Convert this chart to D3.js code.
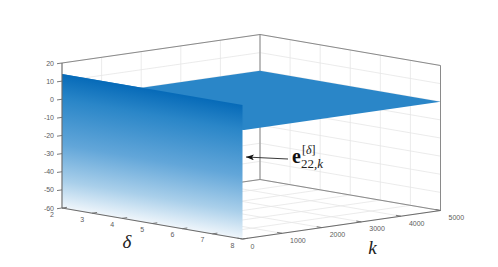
<!DOCTYPE html>
<html><head><meta charset="utf-8">
<script src="https://cdn.jsdelivr.net/npm/d3@7/dist/d3.min.js"></script>
<style>html,body{margin:0;padding:0;background:#fff}svg{display:block}
.t{font:7px "Liberation Sans",Arial,sans-serif;fill:#5c5c5c}</style></head><body>
<svg id="c" width="498" height="267"></svg>
<script>
const zTicks=[20,10,0,-10,-20,-30,-40,-50,-60];
const deltaTicks=[2,3,4,5,6,7,8];
const kTicks=[0,1000,2000,3000,4000,5000];
const profileK=[0,0,40,5000];
const profileZ=[-60,14,0,0];
const colorZ=[14,0,-25,-45,-60];
const colorHex=["#066ab8","#2a86c8","#62a6d9","#a9cfea","#f0f6fb"];

const dX=d3.scaleLinear([2,8],[62,242.5]), dY=d3.scaleLinear([2,8],[208,239]);
const kX=d3.scaleLinear([0,5000],[0,198]), kY=d3.scaleLinear([0,5000],[0,-28.5]);
const zY=d3.scaleLinear([-60,20],[0,-145]);
const P=(d,k,z)=>[dX(d)+kX(k), dY(d)+kY(k)+zY(z)];
const svg=d3.select("#c"), defs=svg.append("defs");
const seg=(a,b,col,w)=>svg.append("line").attr("x1",a[0]).attr("y1",a[1]).attr("x2",b[0]).attr("y2",b[1]).attr("stroke",col).attr("stroke-width",w);
const grid="#e6e6e6", ax="#6b6b6b";

// back-wall and floor grid
kTicks.forEach(k=>{seg(P(2,k,-60),P(2,k,20),grid,.8);seg(P(2,k,-60),P(8,k,-60),grid,.8);});
deltaTicks.forEach(d=>{seg(P(d,5000,-60),P(d,5000,20),grid,.8);seg(P(d,0,-60),P(d,5000,-60),grid,.8);});
zTicks.forEach(z=>{seg(P(2,0,z),P(2,5000,z),grid,.8);seg(P(2,5000,z),P(8,5000,z),grid,.8);});

// box
[[[2,5000,-60],[2,5000,20]],[[2,0,20],[2,5000,20]],[[2,5000,20],[8,5000,20]],[[8,5000,20],[8,5000,-60]],
 [[2,5000,-60],[8,5000,-60]],[[2,5000,-60],[2,0,-60]]].forEach(([a,b])=>seg(P(...a),P(...b),"#8a8a8a",1));

// surface, back strip to front strip
const color=d3.scaleLinear(colorZ,colorHex);
const A=P(2,0,profileZ[1]), B=P(2,0,profileZ[0]);
const v=[P(8,0,-60)[0]-B[0],P(8,0,-60)[1]-B[1]];
const len=Math.hypot(...v), n=[-v[1]/len,v[0]/len];
const h=(B[0]-A[0])*n[0]+(B[1]-A[1])*n[1];
const g=defs.append("linearGradient").attr("id","wall").attr("gradientUnits","userSpaceOnUse")
 .attr("x1",A[0]).attr("y1",A[1]).attr("x2",A[0]+n[0]*h).attr("y2",A[1]+n[1]*h);
colorZ.forEach(z=>g.append("stop").attr("offset",(profileZ[1]-z)/(profileZ[1]-profileZ[0])).attr("stop-color",color(z)));
const line=d3.line();
for(let i=profileK.length-2;i>=0;i--){
  const pts=[P(2,profileK[i],profileZ[i]),P(8,profileK[i],profileZ[i]),P(8,profileK[i+1],profileZ[i+1]),P(2,profileK[i+1],profileZ[i+1])];
  svg.append("path").attr("d",line(pts)+"Z").attr("fill",i===0?"url(#wall)":color(0));
}

// axes
seg(P(2,0,-60),P(2,0,20),ax,1.1);
seg(P(2,0,-60),P(8,0,-60),ax,1.1);
seg(P(8,0,-60),P(8,5000,-60),ax,1.1);
zTicks.forEach(z=>{const p=P(2,0,z);seg([p[0]-5,p[1]+.7],p,ax,.9);
  svg.append("text").attr("class","t").attr("x",p[0]-8).attr("y",p[1]+2.5).attr("text-anchor","end").text(z);});
deltaTicks.forEach(d=>{const p=P(d,0,-60);seg(p,[p[0]+5,p[1]-.7],ax,.9);
  svg.append("text").attr("class","t").attr("x",p[0]-10).attr("y",p[1]+8.5).attr("text-anchor","middle").text(d);});
kTicks.forEach(k=>{const p=P(8,k,-60);seg(p,[p[0]-5,p[1]-.9],ax,.9);
  svg.append("text").attr("class","t").attr("x",p[0]+(k?8:8)).attr("y",p[1]+9.5).text(k);});

// axis titles
const serif='"Liberation Serif","DejaVu Serif",serif';
svg.append("text").attr("x",127).attr("y",248).attr("text-anchor","middle").attr("font-family",serif).attr("font-style","italic").attr("font-size",19).attr("fill","#222").text("δ");
svg.append("text").attr("x",372.5).attr("y",254).attr("text-anchor","middle").attr("font-family",serif).attr("font-style","italic").attr("font-size",19).attr("fill","#222").text("k");

// annotation
defs.append("marker").attr("id","ah").attr("viewBox","0 0 8 6").attr("refX",8).attr("refY",3).attr("markerWidth",8).attr("markerHeight",6).attr("markerUnits","userSpaceOnUse").attr("orient","auto")
 .append("path").attr("d","M0 0L8 3L0 6L2 3Z").attr("fill","#111");
svg.append("line").attr("x1",288).attr("y1",159).attr("x2",246).attr("y2",157).attr("stroke","#222").attr("stroke-width",.9).attr("marker-end","url(#ah)");
svg.append("text").attr("x",292).attr("y",163).attr("font-family",serif).attr("font-weight","bold").attr("font-size",20).attr("fill","#111").text("e");
const sub=svg.append("text").attr("x",301).attr("y",168).attr("font-family",serif).attr("font-size",13).attr("fill","#222");
sub.append("tspan").text("22,");sub.append("tspan").attr("font-style","italic").text("k");
const sup=svg.append("text").attr("x",302).attr("y",154).attr("font-family",serif).attr("font-size",12).attr("fill","#222");
sup.append("tspan").text("[");sup.append("tspan").attr("font-style","italic").text("δ");sup.append("tspan").text("]");
</script></body></html>
